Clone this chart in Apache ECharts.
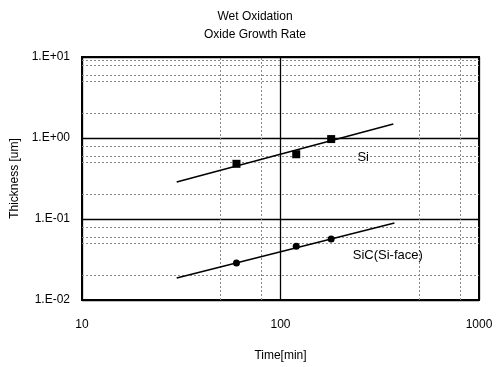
<!DOCTYPE html>
<html>
<head>
<meta charset="utf-8">
<script src="https://cdn.jsdelivr.net/npm/echarts@6/dist/echarts.min.js"></script>
<style>html,body{margin:0;padding:0;background:#fff}#c{width:501px;height:367px}</style>
</head>
<body>
<div id="c"></div>
<script>
// ---- data ----
var siPoints = [[60, 0.48], [120, 0.63], [180, 0.97]];
var sicPoints = [[60, 0.0286], [120, 0.046], [180, 0.0567]];
var siFit = [[30, 0.286], [370, 1.49]];
var sicFit = [[30, 0.0187], [375, 0.089]];
var xTickLabels = {10: '10', 100: '100', 1000: '1000'};
var yTickLabels = ['1.E-02', '1.E-01', '1.E+00', '1.E+01'];
var xMinorGrid = [50, 80, 500, 800];
var yMinorGrid = [0.02, 0.05, 0.06, 0.08, 0.2, 0.5, 0.6, 0.8, 2, 5, 6, 8, 9];
var annotations = [['Si', 261, 0.58], ['SiC(Si-face)', 347, 0.036]];

var font = 'Liberation Sans, Arial, sans-serif';
var chart = echarts.init(document.getElementById('c'));

function yLabel(v) {
  var e = Math.round(Math.log10(v));
  return yTickLabels[e + 2] || '';
}

var minorLines = [];
xMinorGrid.forEach(function (v) { minorLines.push({xAxis: v}); });
yMinorGrid.forEach(function (v) { minorLines.push({yAxis: v}); });

chart.setOption({
  animation: false,
  backgroundColor: '#fff',
  title: {
    text: 'Wet Oxidation\nOxide Growth Rate',
    left: 250, top: 3,
    textAlign: 'center',
    textStyle: {fontFamily: font, fontSize: 12, fontWeight: 'normal', color: '#000', lineHeight: 18}
  },
  grid: {left: 82, right: 22, top: 57, bottom: 67, show: true, borderColor: '#000', borderWidth: 2, backgroundColor: 'transparent'},
  xAxis: {
    type: 'log', logBase: 10, min: 10, max: 1000,
    name: 'Time[min]', nameLocation: 'middle', nameGap: 50,
    nameTextStyle: {fontFamily: font, fontSize: 12, color: '#000'},
    axisLine: {show: false}, axisTick: {show: false},
    axisLabel: {fontFamily: font, fontSize: 12, color: '#000', margin: 19,
      formatter: function (v) { return xTickLabels[Math.round(v)] || ''; }},
    splitLine: {show: true, lineStyle: {color: '#000', width: 1.3}}
  },
  yAxis: {
    type: 'log', logBase: 10, min: 0.01, max: 10,
    name: 'Thickness [um]', nameLocation: 'middle', nameGap: 56,
    nameTextStyle: {fontFamily: font, fontSize: 12, color: '#000'},
    axisLine: {show: false}, axisTick: {show: false},
    axisLabel: {fontFamily: font, fontSize: 12, color: '#000', margin: 12, formatter: yLabel},
    splitLine: {show: true, lineStyle: {color: '#000', width: 1.3}}
  },
  series: [
    {
      type: 'line', data: [], silent: true, z: 1,
      markLine: {
        silent: true, symbol: 'none', label: {show: false}, z: 1,
        lineStyle: {color: '#888', type: [2, 2], width: 1},
        data: minorLines
      }
    },
    {type: 'line', data: siFit, symbol: 'none', lineStyle: {color: '#000', width: 1.5}, z: 6},
    {type: 'line', data: sicFit, symbol: 'none', lineStyle: {color: '#000', width: 1.5}, z: 6},
    {type: 'scatter', data: siPoints, symbol: 'rect', symbolSize: 8, itemStyle: {color: '#000', opacity: 1}, z: 7},
    {type: 'scatter', data: sicPoints, symbol: 'circle', symbolSize: 7, itemStyle: {color: '#000', opacity: 1}, z: 7},
    {
      type: 'scatter', symbolSize: 0, z: 8, silent: true,
      itemStyle: {opacity: 1},
      data: annotations.map(function (a) { return {value: [a[1], a[2]], name: a[0]}; }),
      label: {show: true, position: 'inside', formatter: '{b}', fontFamily: font, fontSize: 13, color: '#000', opacity: 1}
    }
  ]
});
</script>
</body>
</html>
